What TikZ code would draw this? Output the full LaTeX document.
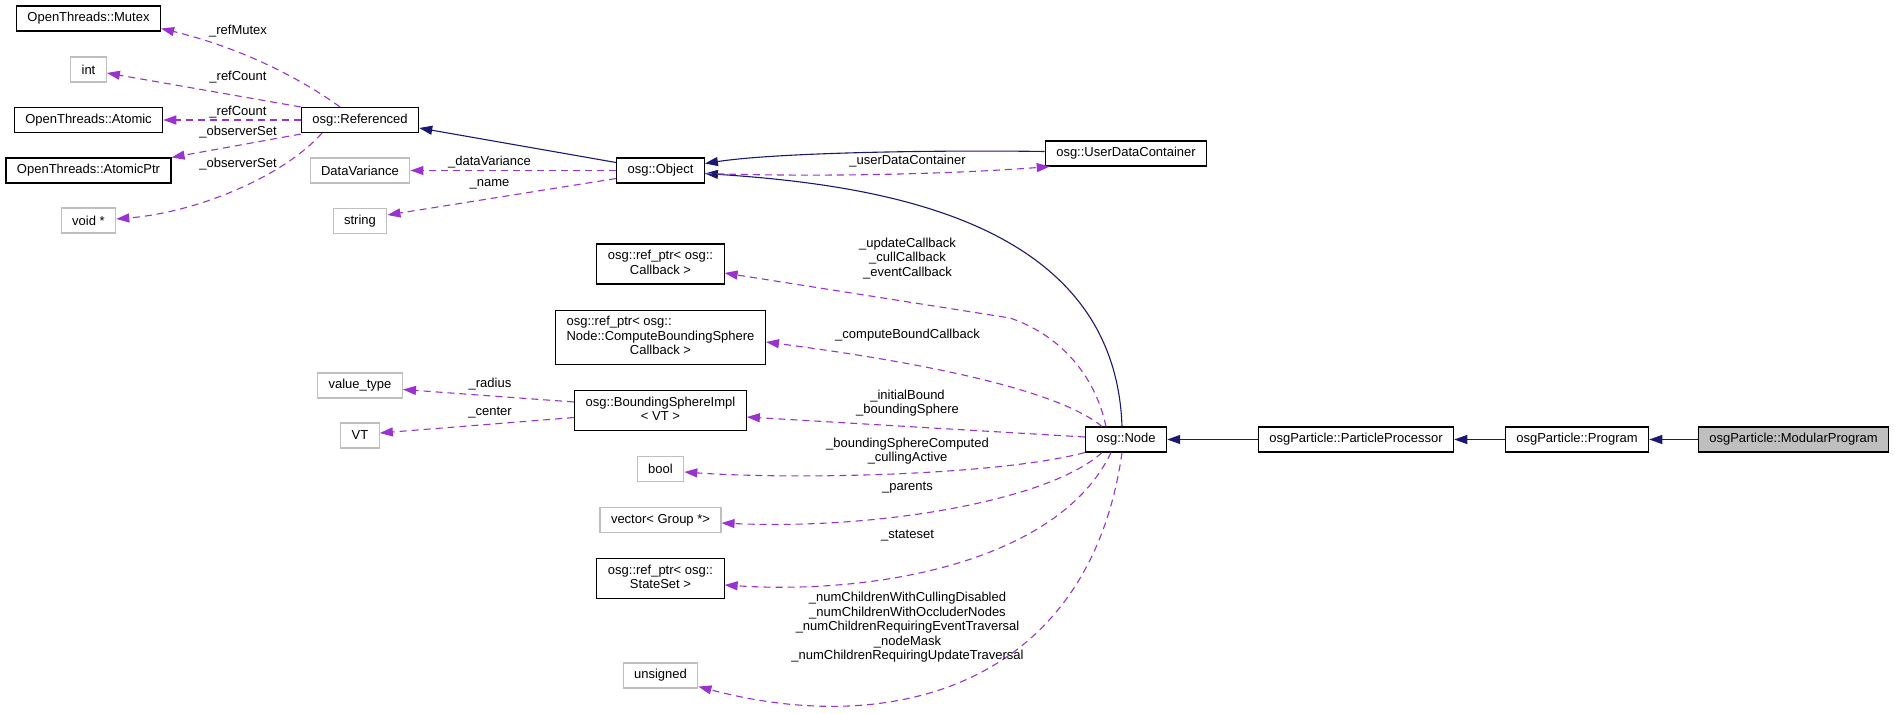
\documentclass[tikz,border=0pt]{standalone}
\usepackage{fontspec}
\setmainfont{Liberation Sans}
\usetikzlibrary{arrows.meta}

\definecolor{inheritblue}{RGB}{25,25,112}
\definecolor{memberpurple}{RGB}{154,50,205}
\definecolor{typegray}{RGB}{191,191,191}
\definecolor{focusgray}{RGB}{191,191,191}

\newcommand{\boxfont}{\fontsize{13pt}{14.5pt}\selectfont}
% left-aligned lines, last line centred
\newcommand{\leftlines}[2]{\begin{tabular}{@{}l@{}}#1\\\multicolumn{1}{@{}c@{}}{#2}\end{tabular}}

\tikzset{
  classbox/.style={draw=black, line width=1.1pt, fill=white, minimum height=25pt,
    inner xsep=11pt, inner ysep=5.5pt, font=\boxfont},
  typebox/.style={classbox, draw=typegray},
  focusbox/.style={classbox, fill=focusgray},
  inherit/.style={draw=inheritblue, line width=1.1pt, -{Triangle[length=13pt,width=9pt]}},
  member/.style={draw=memberpurple, line width=1.1pt, dash pattern=on 7pt off 5pt,
    -{Triangle[length=13pt,width=9pt]}},
  memberlabel/.style={inner sep=0pt, font=\boxfont, align=center}
}

\begin{document}
\begin{tikzpicture}[x=1pt,y=-1pt]
  % column positions
  \def\colA{88.5}
  \def\colB{360}
  \def\colC{660.5}
  \def\colD{1126}
  \useasboundingbox (0,0) rectangle (1895,713);

  % first column
  \node[classbox] (mutex) at (\colA,18.5) {OpenThreads::Mutex};
  \node[typebox] (int) at (\colA,69.5) {int};
  \node[classbox] (atomic) at (\colA,120) {OpenThreads::Atomic};
  \node[classbox] (atomicptr) at (\colA,170.5) {OpenThreads::AtomicPtr};
  \node[typebox] (voidptr) at (\colA,220.5) {void *};

  % second column
  \node[classbox] (referenced) at (\colB,120) {osg::Referenced};
  \node[typebox] (datavariance) at (\colB,170.5) {DataVariance};
  \node[typebox] (string) at (\colB,221) {string};
  \node[typebox] (valuetype) at (\colB,385.5) {value\_type};
  \node[typebox] (vt) at (\colB,435.5) {VT};

  % third column
  \node[classbox] (object) at (\colC,170.5) {osg::Object};
  \node[classbox] (callback) at (\colC,264) {\leftlines{osg::ref\_ptr< osg::}{Callback >}};
  \node[classbox] (boundcallback) at (\colC,337.5) {\leftlines{osg::ref\_ptr< osg::\\Node::ComputeBoundingSphere}{Callback >}};
  \node[classbox] (bsphere) at (\colC,410.5) {\leftlines{osg::BoundingSphereImpl}{< VT >}};
  \node[typebox] (bool) at (\colC,469) {bool};
  \node[typebox] (parentvec) at (\colC,520) {vector< Group *>};
  \node[classbox] (stateset) at (\colC,578.5) {\leftlines{osg::ref\_ptr< osg::}{StateSet >}};
  \node[typebox] (unsigned) at (\colC,675.5) {unsigned};

  % node and its derived classes
  \node[classbox] (userdata) at (\colD,153.5) {osg::UserDataContainer};
  \node[classbox] (osgnode) at (\colD,439.5) {osg::Node};
  \node[classbox] (processor) at (1356,439.5) {osgParticle::ParticleProcessor};
  \node[classbox] (program) at (1577,439.5) {osgParticle::Program};
  \node[focusbox] (modular) at (1793.5,439.5) {osgParticle::ModularProgram};

  % inheritance
  \draw[inherit] (modular) -- (program);
  \draw[inherit] (program) -- (processor);
  \draw[inherit] (processor) -- (osgnode);
  \draw[inherit] ([xshift=-4pt]osgnode.north) .. controls (1115,220) and (880,185) .. ([yshift=-3pt]object.east);
  \draw[inherit] ([yshift=2pt]userdata.west) .. controls (950,150) and (780,152) .. ([yshift=7pt]object.east);
  \draw[inherit] ([yshift=8pt]object.west) -- ([yshift=-8pt]referenced.east);

  % members of osg::Referenced
  \draw[member] ([xshift=-20pt]referenced.north) .. controls (310,85) and (250,50) .. ([yshift=-10pt]mutex.east);
  \draw[member] (referenced.north west) -- ([yshift=-3.5pt]int.east);
  \draw[member] (referenced) -- (atomic);
  \draw[member] ([yshift=-1pt]referenced.south west) -- (atomicptr.north east);
  \draw[member] ([xshift=-38pt]referenced.south) .. controls (285,175) and (200,212) .. ([yshift=1.5pt]voidptr.east);

  % members of osg::Object
  \draw[member] (object) -- (datavariance);
  \draw[member] ([yshift=-8pt]object.west) -- ([yshift=6pt]string.east);
  \draw[member] ([yshift=-3pt]object.east) .. controls (850,178) and (980,172) .. ([xshift=5pt]userdata.south west);

  % members of osg::Node
  \draw[member] ([xshift=-20pt]osgnode.north) .. controls (1095,375) and (1060,335) .. (1010,318) -- ([yshift=-9pt]callback.east);
  \draw[member] ([xshift=-24pt]osgnode.north) .. controls (1070,400) and (980,370) .. ([yshift=-4.5pt]boundcallback.east);
  \draw[member] ([yshift=2.5pt]osgnode.west) -- ([yshift=-6.5pt]bsphere.east);
  \draw[member] (osgnode.south west) .. controls (1000,475) and (800,480) .. ([yshift=-3pt]bool.east);
  \draw[member] ([xshift=-24pt]osgnode.south) .. controls (1050,500) and (880,530) .. ([yshift=-3pt]parentvec.east);
  \draw[member] ([xshift=-15pt]osgnode.south) .. controls (1060,560) and (880,595) .. ([yshift=-6.5pt]stateset.east);
  \draw[member] ([xshift=-4pt]osgnode.south) .. controls (1090,680) and (900,740) .. ([yshift=2pt]unsigned.south east);

  % members of osg::BoundingSphereImpl
  \draw[member] ([yshift=8.5pt]bsphere.west) -- ([yshift=-4pt]valuetype.east);
  \draw[member] ([yshift=-7pt]bsphere.west) -- ([yshift=2.5pt]vt.east);

  % labels
  \node[memberlabel] (lrefmutex) at (238,31) {\_refMutex};
  \node[memberlabel] (lrefcount) at (238,77) {\_refCount};
  \node[memberlabel] (lrefcountb) at (238,112) {\_refCount};
  \node[memberlabel] (lobserver) at (238,132) {\_observerSet};
  \node[memberlabel] (lobserverb) at (238,164) {\_observerSet};
  \node[memberlabel] (ldatavariance) at (489.5,162) {\_dataVariance};
  \node[memberlabel] (lname) at (489.5,184) {\_name};
  \node[memberlabel] (luserdata) at (907.5,161) {\_userDataContainer};
  \node[memberlabel] (lcallbacks) at (907.5,258.3) {\_updateCallback\\\_cullCallback\\\_eventCallback};
  \node[memberlabel] (lboundcallback) at (907.5,335) {\_computeBoundCallback};
  \node[memberlabel] (lsphere) at (907.5,403) {\_initialBound\\\_boundingSphere};
  \node[memberlabel] (lculling) at (907.5,451) {\_boundingSphereComputed\\\_cullingActive};
  \node[memberlabel] (lparents) at (907.5,488) {\_parents};
  \node[memberlabel] (lstateset) at (907.5,536) {\_stateset};
  \node[memberlabel] (lnumchildren) at (907.5,627.5) {\_numChildrenWithCullingDisabled\\\_numChildrenWithOccluderNodes\\\_numChildrenRequiringEventTraversal\\\_nodeMask\\\_numChildrenRequiringUpdateTraversal};
  \node[memberlabel] (lradius) at (490,384) {\_radius};
  \node[memberlabel] (lcenter) at (490,412.5) {\_center};
\end{tikzpicture}
\end{document}
